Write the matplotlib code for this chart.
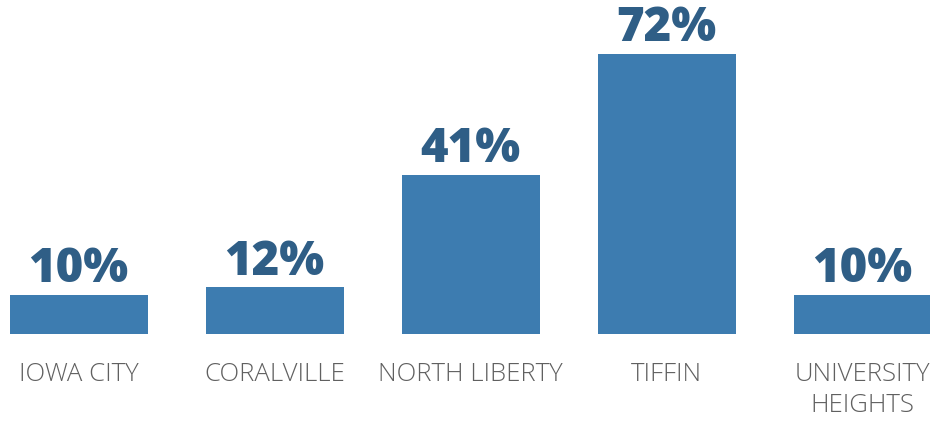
import matplotlib.pyplot as plt

cities = ["IOWA CITY", "CORALVILLE", "NORTH LIBERTY", "TIFFIN", "UNIVERSITY\nHEIGHTS"]
shares = [10, 12, 41, 72, 10]
share_labels = ["10%", "12%", "41%", "72%", "10%"]

bar_color = "#3d7cb0"
value_color = "#2f5e86"
text_color = "#606060"

fig = plt.figure(figsize=(9.3, 4.22), dpi=100)
ax = fig.add_axes([0, 88 / 422, 1, 334 / 422])

x = list(range(len(cities)))
ax.bar(x, shares, width=0.704, color=bar_color)

for xi, val, lab in zip(x, shares, share_labels):
    ax.annotate(
        lab,
        (xi, val),
        xytext=(0, 0.5),
        textcoords="offset points",
        ha="center",
        va="bottom",
        fontsize=34,
        fontweight="heavy",
        fontfamily="Open Sans",
        color=value_color
    )

ax.set_xlim(-0.4005, 4.344)
ax.set_ylim(0, 85.9)

ax.set_xticks(x)
ax.set_xticklabels(
    cities,
    fontsize=18.5,
    fontfamily="Open Sans",
    fontweight="light",
    color=text_color,
    linespacing=1.3
)
ax.tick_params(axis="x", length=0, pad=20.5)
ax.set_yticks([])

for side in ["top", "right", "left", "bottom"]:
    ax.spines[side].set_visible(False)

fig.savefig("out.png", dpi=100)
plt.close(fig)
